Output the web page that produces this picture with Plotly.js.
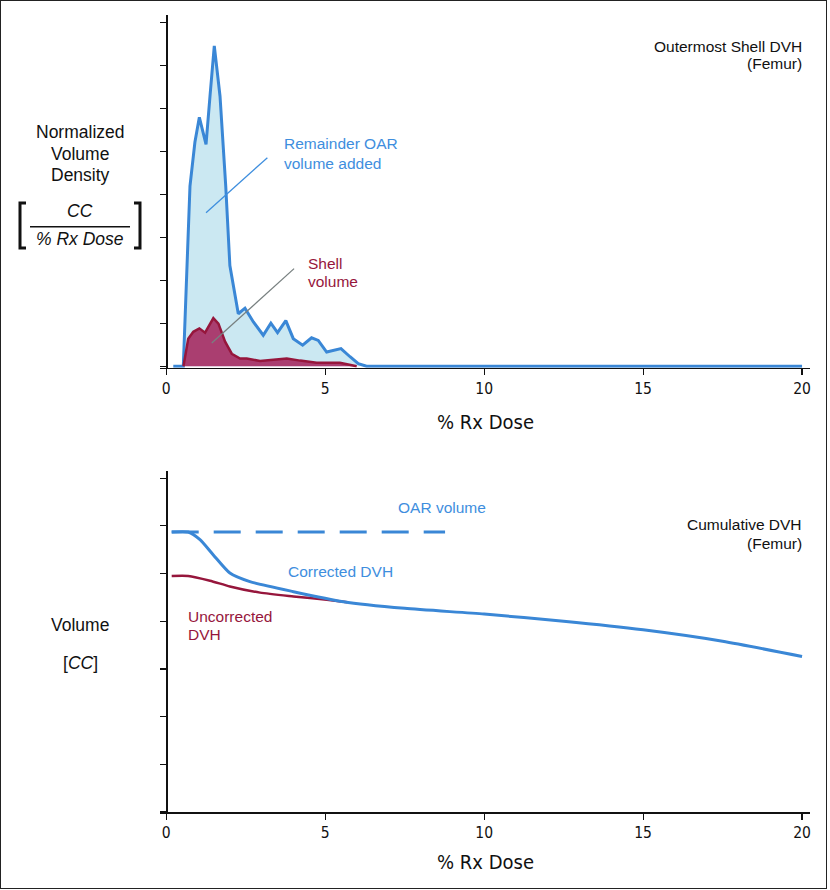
<!DOCTYPE html>
<html>
<head>
<meta charset="utf-8">
<script src="https://cdn.plot.ly/plotly-3.0.1.min.js"></script>
<style>
  html, body { margin: 0; padding: 0; background: #fff; }
  #wrap { position: relative; width: 830px; height: 890px; }
  #chart { width: 830px; height: 890px; }
  #frame { position: absolute; left: 0; top: 0; width: 825px; height: 887px; border: 1.5px solid #222; pointer-events: none; }
</style>
</head>
<body>
<div id="wrap"><div id="chart"></div><div id="frame"></div></div>
<script>
// ---------- data ----------
// Top panel: outermost shell DVH (differential, normalized volume density)
const remainderDose = [0.22, 0.535, 0.745, 0.90, 1.04, 1.25, 1.375, 1.51, 1.69, 1.87, 2.0, 2.265, 2.475, 2.74, 3.05, 3.29, 3.50, 3.76, 3.995, 4.29, 4.57, 4.78, 5.045, 5.495, 5.78, 6.04, 6.30, 20];
const remainderDensity = [0, 0, 4.19, 5.21, 5.79, 5.16, 6.28, 7.45, 6.28, 4.19, 2.34, 1.22, 1.35, 1.03, 0.72, 1.0, 0.78, 1.06, 0.64, 0.49, 0.66, 0.60, 0.33, 0.41, 0.22, 0.06, 0, 0];
const shellDose = [0.54, 0.69, 0.85, 1.04, 1.22, 1.48, 1.64, 1.85, 2.06, 2.32, 2.53, 2.95, 3.37, 3.79, 4.21, 4.73, 5.46, 5.99];
const shellDensity = [0, 0.64, 0.80, 0.88, 0.78, 1.12, 0.99, 0.57, 0.29, 0.18, 0.18, 0.12, 0.15, 0.18, 0.13, 0.08, 0.08, 0];

// Bottom panel: cumulative DVH
const oarDose = [0.17, 8.77];
const oarVolume = [5.87, 5.87];
const correctedDose = [0.17, 0.69, 1.06, 1.48, 2.0, 2.63, 4.0, 5.57, 7.5, 10, 12.5, 15, 17.5, 20];
const correctedVolume = [5.87, 5.87, 5.71, 5.39, 5.01, 4.83, 4.62, 4.41, 4.27, 4.15, 4.0, 3.82, 3.58, 3.26];
const uncorrectedDose = [0.17, 0.69, 1.375, 2.0, 2.95, 4.0, 5.05, 5.7];
const uncorrectedVolume = [4.95, 4.95, 4.85, 4.73, 4.60, 4.52, 4.45, 4.40];

const doseTicks = [0, 5, 10, 15, 20];
const doseTickText = ['0', '5', '10', '15', '20'];
const topYTicks = [0, 1, 2, 3, 4, 5, 6, 7, 8];
const bottomYTicks = [0, 1, 2, 3, 4, 5, 6, 7];

// ---------- layout helpers ----------
const W = 830, H = 890, ML = 160, MR = 20, MT = 15, MB = 78;
const PW = W - ML - MR, PH = H - MT - MB;
const X = px => (px - ML) / PW;
const Y = py => (H - MB - py) / PH;

const BLUE = 'rgb(58,135,214)';
const BLUE_TXT = 'rgb(62,142,222)';
const LIGHT = 'rgb(203,232,242)';
const RED = 'rgb(150,22,60)';
const RED_FILL = 'rgb(170,62,112)';
const FONT = 'Liberation Sans, Arial, sans-serif';
const NARROW = 'Liberation Sans Narrow, DejaVu Sans Condensed, Arial Narrow, sans-serif';

const xRange = [-0.198, 20.25];
const yPos = (0 - xRange[0]) / (xRange[1] - xRange[0]);

const traces = [
  { x: remainderDose, y: remainderDensity, xaxis: 'x', yaxis: 'y', mode: 'lines', fill: 'tozeroy',
    fillcolor: LIGHT, line: { color: BLUE, width: 3 }, hoverinfo: 'skip' },
  { x: shellDose, y: shellDensity, xaxis: 'x', yaxis: 'y', mode: 'lines', fill: 'tozeroy',
    fillcolor: RED_FILL, line: { color: RED, width: 2.5 }, hoverinfo: 'skip' },
  { x: oarDose, y: oarVolume, xaxis: 'x2', yaxis: 'y2', mode: 'lines',
    line: { color: BLUE, width: 3, dash: '27px,15px' }, hoverinfo: 'skip' },
  { x: uncorrectedDose, y: uncorrectedVolume, xaxis: 'x2', yaxis: 'y2', mode: 'lines',
    line: { color: RED, width: 2.5, shape: 'spline', smoothing: 0.6 }, hoverinfo: 'skip' },
  { x: correctedDose, y: correctedVolume, xaxis: 'x2', yaxis: 'y2', mode: 'lines',
    line: { color: BLUE, width: 3, shape: 'spline', smoothing: 0.6 }, hoverinfo: 'skip' }
];

const xAxisCommon = {
  range: xRange, showgrid: false, zeroline: false, showline: true, linecolor: '#111', linewidth: 1.5,
  ticks: 'outside', ticklen: 6, tickwidth: 1.2, tickcolor: '#111',
  tickvals: doseTicks, ticktext: doseTickText,
  tickfont: { family: NARROW, size: 15.5, color: '#111' }, fixedrange: true
};
const yAxisCommon = {
  showgrid: false, zeroline: false, showline: true, linecolor: '#111', linewidth: 1.5,
  ticks: 'outside', ticklen: 6, tickwidth: 1.2, tickcolor: '#111', showticklabels: false,
  anchor: 'free', position: yPos, fixedrange: true
};

function txt(text, px, py, opts) {
  return Object.assign({
    text: text, xref: 'paper', yref: 'paper', x: X(px), y: Y(py),
    xanchor: 'center', yanchor: 'middle', showarrow: false,
    font: { family: FONT, size: 15, color: '#111' }
  }, opts || {});
}

const annotations = [
  txt('Outermost Shell DVH', 804, 47, { xanchor: 'right', font: { family: FONT, size: 15.5, color: '#111' } }),
  txt('(Femur)', 804, 64, { xanchor: 'right', font: { family: FONT, size: 15.5, color: '#111' } }),
  txt('Normalized', 80, 132, { font: { family: FONT, size: 17.5, color: '#111' } }),
  txt('Volume', 80, 153.5, { font: { family: FONT, size: 17.5, color: '#111' } }),
  txt('Density', 80, 175, { font: { family: FONT, size: 17.5, color: '#111' } }),
  txt('<i>CC</i>', 80, 211, { font: { family: FONT, size: 17.5, color: '#111' } }),
  txt('<i>% Rx Dose</i>', 80, 239, { font: { family: FONT, size: 17.5, color: '#111' } }),
  txt('Remainder OAR', 282, 143.5, { xanchor: 'left', font: { family: FONT, size: 15.5, color: BLUE_TXT } }),
  txt('volume added', 282, 163, { xanchor: 'left', font: { family: FONT, size: 15.5, color: BLUE_TXT } }),
  txt('Shell', 306, 263.5, { xanchor: 'left', font: { family: FONT, size: 15.5, color: RED } }),
  txt('volume', 306, 281.5, { xanchor: 'left', font: { family: FONT, size: 15.5, color: RED } }),
  txt('% Rx Dose', 485, 422, { font: { family: NARROW, size: 20, color: '#111' } }),

  txt('OAR volume', 396, 507, { xanchor: 'left', font: { family: FONT, size: 15.5, color: BLUE_TXT } }),
  txt('Corrected DVH', 286, 571, { xanchor: 'left', font: { family: FONT, size: 15.5, color: BLUE_TXT } }),
  txt('Uncorrected', 186, 616.5, { xanchor: 'left', font: { family: FONT, size: 15.5, color: RED } }),
  txt('DVH', 186, 634.5, { xanchor: 'left', font: { family: FONT, size: 15.5, color: RED } }),
  txt('Cumulative DVH', 804, 524, { xanchor: 'right', font: { family: FONT, size: 15.5, color: '#111' } }),
  txt('(Femur)', 804, 543, { xanchor: 'right', font: { family: FONT, size: 15.5, color: '#111' } }),
  txt('Volume', 80, 624.5, { font: { family: FONT, size: 17.5, color: '#111' } }),
  txt('[<i>CC</i>]', 80, 662.5, { font: { family: FONT, size: 17.5, color: '#111' } }),
  txt('% Rx Dose', 485, 862, { font: { family: NARROW, size: 20, color: '#111' } })
];

function pth(points) {
  return points.map((p, i) => (i ? 'L' : 'M') + X(p[0]).toFixed(5) + ',' + Y(p[1]).toFixed(5)).join(' ');
}

const shapes = [
  // leader lines (data coordinates)
  { type: 'line', xref: 'x', yref: 'y', x0: 1.25, y0: 3.57, x1: 3.18, y1: 4.85, line: { color: BLUE_TXT, width: 1.3 } },
  { type: 'line', xref: 'x', yref: 'y', x0: 1.43, y0: 0.54, x1: 4.02, y1: 2.27, line: { color: 'rgb(120,128,128)', width: 1.3 } },
  // fraction bar and brackets of the y title
  { type: 'line', xref: 'paper', yref: 'paper', x0: X(30), y0: Y(226.7), x1: X(130), y1: Y(226.7), line: { color: '#111', width: 1.5 } },
  { type: 'path', xref: 'paper', yref: 'paper', path: pth([[26, 203], [20, 203], [20, 248], [26, 248]]), line: { color: '#111', width: 3 } },
  { type: 'path', xref: 'paper', yref: 'paper', path: pth([[134, 203], [140, 203], [140, 248], [134, 248]]), line: { color: '#111', width: 3 } }
];

const layout = {
  width: W, height: H, margin: { l: ML, r: MR, t: MT, b: MB },
  paper_bgcolor: '#fff', plot_bgcolor: 'rgba(0,0,0,0)', showlegend: false,
  font: { family: FONT, color: '#111' },
  xaxis: Object.assign({}, xAxisCommon, { domain: [0, 1], anchor: 'y' }),
  yaxis: Object.assign({}, yAxisCommon, { domain: [Y(367.7), 1], range: [-0.035, 8.17], tickvals: topYTicks }),
  xaxis2: Object.assign({}, xAxisCommon, { domain: [0, 1], anchor: 'y2' }),
  yaxis2: Object.assign({}, yAxisCommon, { domain: [0, Y(471)], range: [0, 7.15], tickvals: bottomYTicks }),
  annotations: annotations,
  shapes: shapes
};

Plotly.newPlot('chart', traces, layout, { displayModeBar: false, staticPlot: true });
</script>
</body>
</html>
